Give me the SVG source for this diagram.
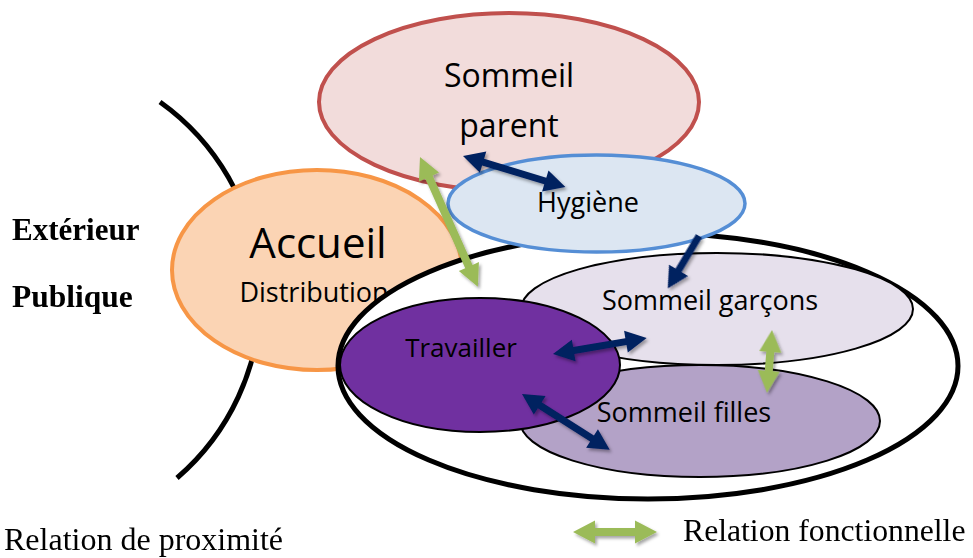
<svg xmlns="http://www.w3.org/2000/svg" width="973" height="558" viewBox="0 0 973 558">
<style>
.lbl{font-family:"Open Sans","Noto Sans",sans-serif;fill:#000;text-anchor:middle}
.ser{font-family:"Liberation Serif","Times New Roman",serif;fill:#000}
.thin{stroke:#000;stroke-width:2}
.navy{fill:#002060}
.green{fill:#9BBB59}
</style>
<defs>
<filter id="sh" x="-20%" y="-20%" width="140%" height="140%">
<feDropShadow dx="2" dy="2.5" stdDeviation="1.5" flood-color="#000" flood-opacity="0.35"/>
</filter>
</defs>
<rect width="973" height="558" fill="#fff"/>
<g id="boundary">
<path d="M160,102 A239,239 0 0 1 177,478" fill="none" stroke="#000" stroke-width="5"/>
</g>
<g id="sommeil-parent">
<ellipse cx="509" cy="102" rx="190" ry="89" fill="#F2DCDB" stroke="#C0504D" stroke-width="4"/>
<text class="lbl" x="509" y="87" font-size="32">Sommeil</text>
<text class="lbl" x="509" y="137" font-size="32">parent</text>
</g>
<g id="accueil">
<ellipse cx="317" cy="270" rx="145" ry="100" fill="#FBD4B4" stroke="#F79646" stroke-width="4"/>
<text class="lbl" x="318" y="258" font-size="42">Accueil</text>
<text class="lbl" x="314" y="302" font-size="27">Distribution</text>
</g>
<g id="zone-privee">
<ellipse cx="648" cy="366" rx="310" ry="133" fill="#fff" stroke="#000" stroke-width="5"/>
</g>
<g id="sommeil-garcons">
<ellipse cx="717" cy="309" rx="196" ry="56" fill="#E6E0EC" class="thin"/>
<text class="lbl" x="710" y="310" font-size="27">Sommeil garçons</text>
</g>
<g id="sommeil-filles">
<ellipse cx="700" cy="421" rx="180" ry="56" fill="#B3A2C7" class="thin"/>
<text class="lbl" x="684" y="422" font-size="27">Sommeil filles</text>
</g>
<g id="travailler">
<ellipse cx="480" cy="365" rx="140" ry="67" fill="#7030A0" class="thin"/>
<text class="lbl" x="461" y="357" font-size="26">Travailler</text>
</g>
<g id="hygiene">
<ellipse cx="596.5" cy="203.5" rx="148.5" ry="48.5" fill="#DCE6F2" stroke="#558ED5" stroke-width="3.5"/>
<text class="lbl" x="588" y="212" font-size="27">Hygiène</text>
</g>
<g id="connectors" filter="url(#sh)">
<path class="navy" transform="translate(463,156) rotate(16.9)" d="M0,0 L21,-11 L21,-3.5 L86,-3.5 L86,-11 L107,0 L86,11 L86,3.5 L21,3.5 L21,11 Z"/>
<path class="green" transform="translate(420,157) rotate(65.96)" d="M0,0 L22,-11 L22,-4 L120,-4 L120,-11 L142,0 L120,11 L120,4 L22,4 L22,11 Z"/>
<path class="navy" transform="translate(699,236) rotate(120.8)" d="M0,-3.5 L40,-3.5 L40,-11 L61,0 L40,11 L40,3.5 L0,3.5 Z"/>
<path class="navy" transform="translate(553,354) rotate(-9.66)" d="M0,0 L21,-11 L21,-3.5 L74,-3.5 L74,-11 L95,0 L74,11 L74,3.5 L21,3.5 L21,11 Z"/>
<path class="green" transform="translate(772,330) rotate(94.5)" d="M0,0 L22,-11 L22,-4 L41,-4 L41,-11 L63,0 L41,11 L41,4 L22,4 L22,11 Z"/>
<path class="navy" transform="translate(522,394) rotate(32.47)" d="M0,0 L21,-11 L21,-3.5 L83,-3.5 L83,-11 L104,0 L83,11 L83,3.5 L21,3.5 L21,11 Z"/>
</g>
<g id="legend">
<g filter="url(#sh)">
<path class="green" transform="translate(573,532)" d="M0,0 L22,-11.5 L22,-4 L62,-4 L62,-11.5 L84,0 L62,11.5 L62,4 L22,4 L22,11.5 Z"/>
</g>
<text class="ser" x="683" y="541" font-size="31.7">Relation fonctionnelle</text>
<text class="ser" x="4" y="550" font-size="32">Relation de proximité</text>
</g>
<g id="outside-labels">
<text class="ser" x="12" y="240" font-size="31" font-weight="bold">Extérieur</text>
<text class="ser" x="12" y="307" font-size="31.5" font-weight="bold">Publique</text>
</g>
</svg>
